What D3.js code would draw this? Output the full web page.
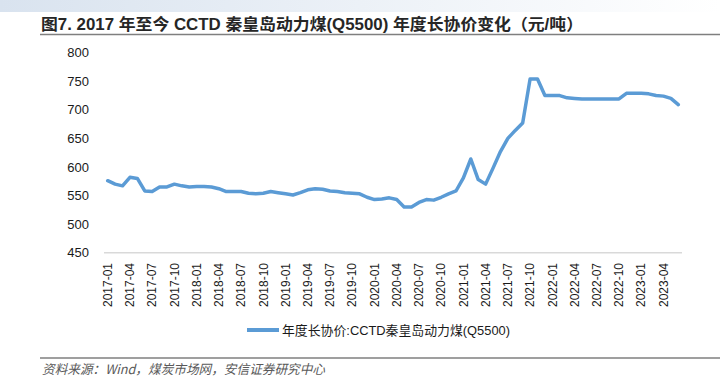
<!DOCTYPE html>
<html>
<head>
<meta charset="utf-8">
<script src="https://cdn.jsdelivr.net/npm/d3@7"></script>
<style>
  html, body { margin: 0; padding: 0; background: #fff; }
  svg { display: block; font-family: "Liberation Sans", Arial, "Noto Sans CJK SC", sans-serif; }
</style>
</head>
<body>
<div id="chart"></div>
<script>
// monthly categories 2017-01 .. 2023-06
const months = d3.timeMonths(new Date(2017, 0, 1), new Date(2023, 6, 1)).map(d3.timeFormat('%Y-%m'))

// 年度长协价 CCTD 秦皇岛动力煤(Q5500), 元/吨
const prices = [
    576, 570, 567, 582, 580, 558, 557, 565, 565, 570, 567, 565,
    566, 566, 565, 562, 557, 557, 557, 554, 553, 554, 557, 555,
    553, 551, 555, 560, 562, 561, 558, 557, 555, 554, 553, 547,
    543, 544, 546, 543, 530, 530, 538, 543, 542, 547, 553, 558,
    581, 614, 578, 570, 598, 627, 650, 664, 677, 754, 754, 725,
    725, 725, 721, 720, 719, 719, 719, 719, 719, 719, 729, 729,
    729, 728, 725, 724, 720, 709
]

const yTicks = [450, 500, 550, 600, 650, 700, 750, 800]
const xTickLabels = months.filter((m, i) => i % 3 === 0)

const title = '图7. 2017 年至今 CCTD 秦皇岛动力煤(Q5500) 年度长协价变化（元/吨）'
const seriesName = '年度长协价:CCTD秦皇岛动力煤(Q5500)'
const source = '资料来源：Wind，煤炭市场网，安信证券研究中心'

const w = 720
const h = 386
const blue = '#5b9bd5'

const svg = d3.select('#chart').append('svg').attr('width', w).attr('height', h)

// light header band
const grad = svg.append('defs').append('linearGradient').attr('id', 'band')
grad.append('stop').attr('offset', '0%').attr('stop-color', '#d9e3ef')
grad.append('stop').attr('offset', '100%').attr('stop-color', '#ffffff')
svg.append('rect').attr('x', 0).attr('y', 0).attr('width', w).attr('height', 12).attr('fill', 'url(#band)')

svg.append('text')
    .attr('x', 41).attr('y', 30)
    .attr('font-size', 16).attr('font-weight', 'bold').attr('fill', '#262626')
    .attr('textLength', 542).attr('lengthAdjust', 'spacingAndGlyphs')
    .text(title)
svg.append('line').attr('x1', 40).attr('x2', w).attr('y1', 34.5).attr('y2', 34.5)
    .attr('stroke', '#7f7f7f').attr('stroke-width', 1.5)

const x = d3.scaleBand().domain(months).range([104, 682])
const y = d3.scaleLinear().domain([450, 800]).range([252.7, 52.7])
const cx = (m) => x(m) + x.bandwidth() / 2

// y labels
svg.append('g')
    .selectAll('text')
    .data(yTicks)
    .join('text')
    .attr('x', 89)
    .attr('y', (d) => y(d))
    .attr('dy', '0.35em')
    .attr('text-anchor', 'end')
    .attr('font-size', 13)
    .attr('fill', '#1a1a1a')
    .text((d) => d)

// base line
svg.append('line')
    .attr('x1', x.range()[0]).attr('x2', x.range()[1])
    .attr('y1', y(450)).attr('y2', y(450))
    .attr('stroke', '#d9d9d9').attr('stroke-width', 1.5)

// x labels
svg.append('g')
    .selectAll('text')
    .data(xTickLabels)
    .join('text')
    .attr('transform', (d) => `translate(${cx(d)},263) rotate(-90)`)
    .attr('dy', '0.35em')
    .attr('text-anchor', 'end')
    .attr('font-size', 12)
    .attr('fill', '#1a1a1a')
    .text((d) => d)

const line = d3.line()
    .x((d, i) => cx(months[i]))
    .y((d) => y(d))

svg.append('path')
    .datum(prices)
    .attr('d', line)
    .attr('fill', 'none')
    .attr('stroke', blue)
    .attr('stroke-width', 3.5)
    .attr('stroke-linejoin', 'round')
    .attr('stroke-linecap', 'round')

// legend
svg.append('line').attr('x1', 247).attr('x2', 279).attr('y1', 330).attr('y2', 330)
    .attr('stroke', blue).attr('stroke-width', 4)
svg.append('text')
    .attr('x', 282).attr('y', 330).attr('dy', '0.35em')
    .attr('font-size', 13).attr('fill', '#1a1a1a')
    .attr('textLength', 228).attr('lengthAdjust', 'spacingAndGlyphs')
    .text(seriesName)

// footer
svg.append('line').attr('x1', 40).attr('x2', w).attr('y1', 358).attr('y2', 358)
    .attr('stroke', '#7f7f7f').attr('stroke-width', 1.5)
svg.append('text')
    .attr('x', 42).attr('y', 369).attr('dy', '0.35em')
    .attr('font-size', 13).attr('font-style', 'italic').attr('fill', '#595959')
    .attr('font-family', '"Noto Sans CJK SC", sans-serif')
    .attr('textLength', 283).attr('lengthAdjust', 'spacingAndGlyphs')
    .text(source)
</script>
</body>
</html>
